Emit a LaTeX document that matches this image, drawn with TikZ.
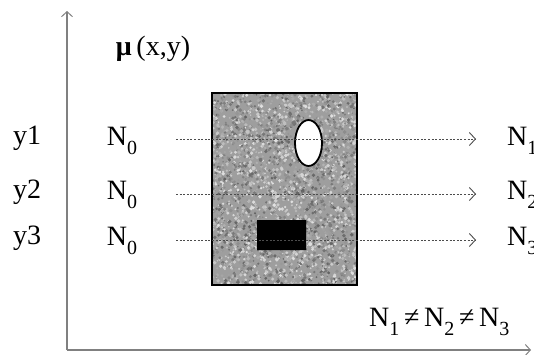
\documentclass[tikz,border=0pt]{standalone}
\usepackage{fontspec}
\setmainfont{Liberation Serif}
\usetikzlibrary{arrows.meta,shapes.geometric,shapes.misc}
\newcommand{\sbs}[1]{\raisebox{-0.3em}{\fontsize{20}{20}\selectfont #1}}
\begin{document}
\begin{tikzpicture}[x=1pt,y=-1pt,
  lbl/.style={font=\fontsize{28}{30}\selectfont, inner sep=0pt},
  axis/.style={draw=black!50, line width=1.3pt, -{Straight Barb[length=5pt,width=11pt,line width=1pt]}},
  ray/.style={draw=black!70, line width=0.8pt, dash pattern=on 2pt off 1.6pt, -{Straight Barb[length=6pt,width=13pt,line width=0.9pt]}}]
\useasboundingbox (0,0) rectangle (534,354);
% axes
\coordinate (o) at (67,350);
\coordinate (ytip) at (67,11);
\coordinate (xtip) at (531,350);
\draw[axis] (o) -- (ytip);
\draw[axis] (o) -- (xtip);
% sample block with noise
\begin{scope}
\clip (212,93) rectangle (357,285);
\fill[black!38] (212,93) rectangle (357,285);
\pgfmathsetseed{42}
\foreach \i in {1,...,3200}{
  \pgfmathsetmacro\rx{212+145*rnd}
  \pgfmathsetmacro\ry{93+192*rnd}
  \pgfmathsetmacro\g{int(12+50*rnd)}
  \pgfmathsetmacro\rr{0.8+1.2*rnd}
  \fill[black!\g] (\rx,\ry) circle (\rr);
}
\end{scope}
\node[draw=black, line width=2pt, minimum width=145pt, minimum height=192pt, inner sep=0pt] (block) at (284.5,189) {};
% inclusions
\node[draw=black, fill=white, line width=1.8pt, ellipse, minimum width=27pt, minimum height=46pt, inner sep=0pt] (hole) at (308.5,143) {};
\node[fill=black, chamfered rectangle, chamfered rectangle xsep=5pt, chamfered rectangle ysep=5pt, minimum width=49pt, minimum height=30pt, inner sep=0pt] (dense) at (281.5,235) {};
% rays
\coordinate (a1) at (176,139); \coordinate (b1) at (476,139);
\coordinate (a2) at (176,194); \coordinate (b2) at (476,194);
\coordinate (a3) at (176,240); \coordinate (b3) at (476,240);
\draw[ray] (a1) -- (b1);
\draw[ray] (a2) -- (b2);
\draw[ray] (a3) -- (b3);
% labels
\node[lbl, font=\fontsize{28}{30}\selectfont\bfseries] (mu) at (153,49) {μ\,\mdseries(x,y)};
\node[lbl] (y1) at (27,138) {y1};
\node[lbl] (y2) at (27,192) {y2};
\node[lbl] (y3) at (27,238) {y3};
\node[lbl] (n01) at (122,141) {N\sbs{0}};
\node[lbl] (n02) at (122,195) {N\sbs{0}};
\node[lbl] (n03) at (122,241) {N\sbs{0}};
\node[lbl, anchor=west] (n1) at (507,141) {N\sbs{1}};
\node[lbl, anchor=west] (n2) at (507,195) {N\sbs{2}};
\node[lbl, anchor=west] (n3) at (507,241) {N\sbs{3}};
\node[lbl, anchor=west] (neq) at (369,322) {N\sbs{1}\,≠\,N\sbs{2}\,≠\,N\sbs{3}};
\end{tikzpicture}
\end{document}
